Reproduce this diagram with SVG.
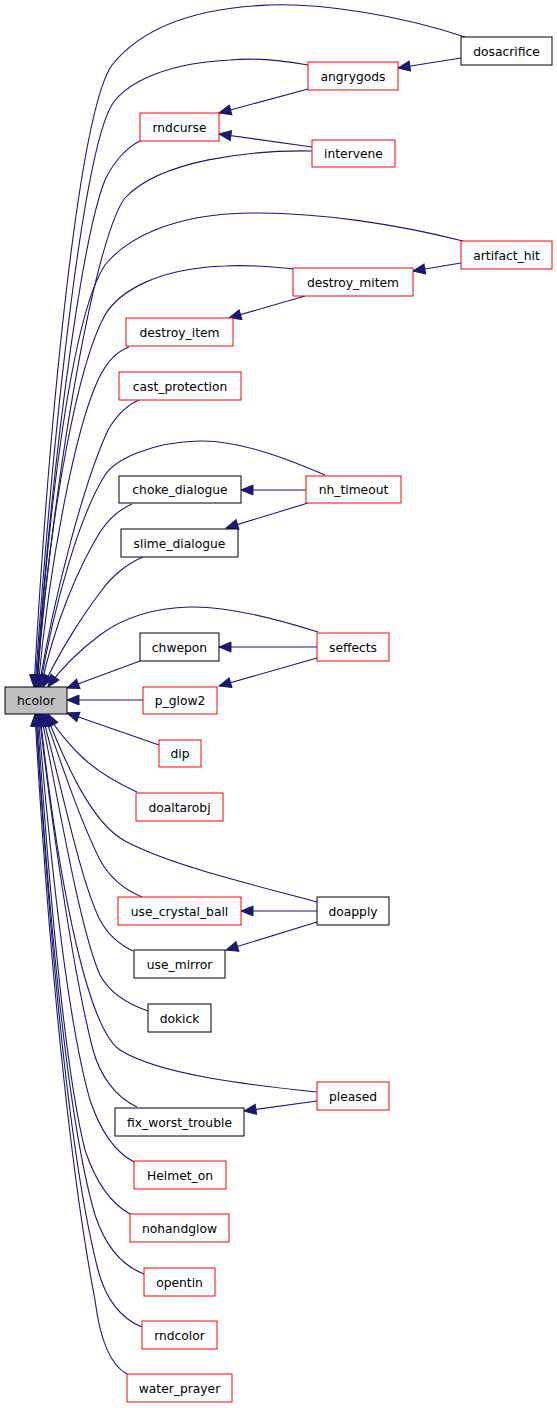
<svg xmlns="http://www.w3.org/2000/svg" width="557" height="1408" viewBox="0 0 557 1408">
<style>
.n rect{fill:#ffffff;stroke-width:1}
.r rect{stroke:#ff0000}
.b rect{stroke:#000000}
.n text{font-family:"DejaVu Sans","Liberation Sans",sans-serif;font-size:12.3px;fill:#000000;text-anchor:middle}
.e path{fill:none;stroke:#191970;stroke-width:1.1;marker-end:url(#ah)}
</style>
<defs>
<marker id="ah" markerUnits="userSpaceOnUse" markerWidth="14" markerHeight="12" refX="12" refY="5" orient="auto" overflow="visible">
<path d="M0,0 L12,5 L0,10 z" fill="#191970" stroke="#191970" stroke-width="1"/>
</marker>
</defs>
<rect width="557" height="1408" fill="#ffffff"/>
<g id="edges" class="e">
<path d="M465,37 C400,15 320,3 270,5 C190,8 140,30 112,65 C80,110 50,400 34,687"/>
<path d="M308,65 C280,60 250,58 230,60 C170,63 130,80 113,103 C85,145 55,400 35,687"/>
<path d="M140,141 C125,148 112,165 105,180 C85,230 55,420 36,687"/>
<path d="M312,151 C250,150 160,160 125,198 C100,230 60,420 36,687"/>
<path d="M461,58 L398,68"/>
<path d="M308,89 L219,113"/>
<path d="M312,147 L219,134"/>
<path d="M463,241 C400,225 320,212 250,213 C170,214 125,240 105,265 C75,310 50,480 37,687"/>
<path d="M293,269 C270,266 240,265 225,266 C160,268 120,290 105,315 C80,360 50,500 37,687"/>
<path d="M461,263 L413,271"/>
<path d="M305,296 L229,318"/>
<path d="M129,347 C115,352 105,365 98,380 C75,430 50,560 38,687"/>
<path d="M139,400 C125,406 115,418 108,430 C85,480 55,590 39,687"/>
<path d="M325,475 C290,460 240,440 200,441 C150,442 115,460 105,475 C80,515 55,600 40,687"/>
<path d="M306,490 L241,490"/>
<path d="M308,503 L226,528"/>
<path d="M132,504 C118,510 108,520 100,532 C80,565 55,620 41,687"/>
<path d="M143,557 C128,563 112,576 102,590 C85,612 60,650 43,687"/>
<path d="M318,632 C280,620 230,606 190,607 C150,608 120,620 100,635 C80,650 60,670 48,687"/>
<path d="M317,647 L219,647"/>
<path d="M317,658 L219,686"/>
<path d="M140,661 L67,688"/>
<path d="M143,700 L67,700"/>
<path d="M159,745 L67,713"/>
<path d="M137,792 C115,782 95,770 80,755 C65,740 55,728 48,714"/>
<path d="M317,902 C250,884 170,865 125,841 C95,825 70,775 46,714"/>
<path d="M317,911 L241,911"/>
<path d="M317,922 L226,950"/>
<path d="M142,897 C125,890 110,878 100,860 C80,820 60,760 44,714"/>
<path d="M133,951 C118,944 107,933 100,920 C80,880 60,780 42,714"/>
<path d="M148,1011 C125,1003 108,990 100,975 C80,930 58,800 41,714"/>
<path d="M317,1092 C250,1085 160,1075 120,1050 C90,1030 60,900 40,714"/>
<path d="M317,1101 L244,1111"/>
<path d="M137,1107 C115,1097 100,1075 93,1050 C75,980 55,850 39,714"/>
<path d="M134,1162 C115,1152 100,1130 90,1100 C70,1030 52,880 38,714"/>
<path d="M130,1214 C110,1203 95,1180 85,1150 C65,1070 50,900 37,714"/>
<path d="M144,1274 C120,1265 105,1245 95,1215 C70,1130 50,940 36,714"/>
<path d="M142,1327 C120,1318 106,1300 98,1270 C70,1160 50,950 36,714"/>
<path d="M127,1374 C110,1365 100,1340 95,1300 C70,1170 48,950 35,714"/>
</g>
<g id="hcolor" class="n b"><rect x="5" y="687" width="62" height="27" style="fill:#bfbfbf"/><text x="36" y="705">hcolor</text></g>
<g id="dosacrifice" class="n b"><rect x="461" y="37" width="91" height="28"/><text x="506.5" y="55.5">dosacrifice</text></g>
<g id="angrygods" class="n r"><rect x="308" y="62" width="90" height="28"/><text x="353" y="80.5">angrygods</text></g>
<g id="rndcurse" class="n r"><rect x="140" y="113" width="79" height="28"/><text x="179.5" y="131.5">rndcurse</text></g>
<g id="intervene" class="n r"><rect x="312" y="140" width="83" height="27"/><text x="353.5" y="158">intervene</text></g>
<g id="artifact_hit" class="n r"><rect x="461" y="241" width="91" height="28"/><text x="506.5" y="259.5">artifact_hit</text></g>
<g id="destroy_mitem" class="n r"><rect x="293" y="268" width="120" height="28"/><text x="353" y="286.5">destroy_mitem</text></g>
<g id="destroy_item" class="n r"><rect x="126" y="318" width="107" height="28"/><text x="179.5" y="336.5">destroy_item</text></g>
<g id="cast_protection" class="n r"><rect x="119" y="372" width="122" height="28"/><text x="180" y="390.5">cast_protection</text></g>
<g id="choke_dialogue" class="n b"><rect x="119" y="476" width="122" height="27"/><text x="180" y="494">choke_dialogue</text></g>
<g id="nh_timeout" class="n r"><rect x="306" y="476" width="95" height="27"/><text x="353.5" y="494">nh_timeout</text></g>
<g id="slime_dialogue" class="n b"><rect x="121" y="529" width="117" height="28"/><text x="179.5" y="547.5">slime_dialogue</text></g>
<g id="chwepon" class="n b"><rect x="140" y="633" width="79" height="28"/><text x="179.5" y="651.5">chwepon</text></g>
<g id="seffects" class="n r"><rect x="317" y="633" width="72" height="28"/><text x="353" y="651.5">seffects</text></g>
<g id="p_glow2" class="n r"><rect x="143" y="687" width="74" height="27"/><text x="180" y="705">p_glow2</text></g>
<g id="dip" class="n r"><rect x="159" y="740" width="42" height="27"/><text x="180" y="758">dip</text></g>
<g id="doaltarobj" class="n r"><rect x="136" y="793" width="87" height="28"/><text x="179.5" y="811.5">doaltarobj</text></g>
<g id="use_crystal_ball" class="n r"><rect x="118" y="897" width="123" height="28"/><text x="179.5" y="915.5">use_crystal_ball</text></g>
<g id="doapply" class="n b"><rect x="317" y="897" width="72" height="28"/><text x="353" y="915.5">doapply</text></g>
<g id="use_mirror" class="n b"><rect x="134" y="950" width="91" height="28"/><text x="179.5" y="968.5">use_mirror</text></g>
<g id="dokick" class="n b"><rect x="148" y="1004" width="63" height="28"/><text x="179.5" y="1022.5">dokick</text></g>
<g id="pleased" class="n r"><rect x="317" y="1082" width="72" height="28"/><text x="353" y="1100.5">pleased</text></g>
<g id="fix_worst_trouble" class="n b"><rect x="115" y="1108" width="129" height="28"/><text x="179.5" y="1126.5">fix_worst_trouble</text></g>
<g id="Helmet_on" class="n r"><rect x="134" y="1161" width="92" height="28"/><text x="180" y="1179.5">Helmet_on</text></g>
<g id="nohandglow" class="n r"><rect x="130" y="1214" width="99" height="28"/><text x="179.5" y="1232.5">nohandglow</text></g>
<g id="opentin" class="n r"><rect x="144" y="1268" width="71" height="28"/><text x="179.5" y="1286.5">opentin</text></g>
<g id="rndcolor" class="n r"><rect x="142" y="1321" width="75" height="28"/><text x="179.5" y="1339.5">rndcolor</text></g>
<g id="water_prayer" class="n r"><rect x="127" y="1374" width="105" height="28"/><text x="179.5" y="1392.5">water_prayer</text></g>
</svg>
